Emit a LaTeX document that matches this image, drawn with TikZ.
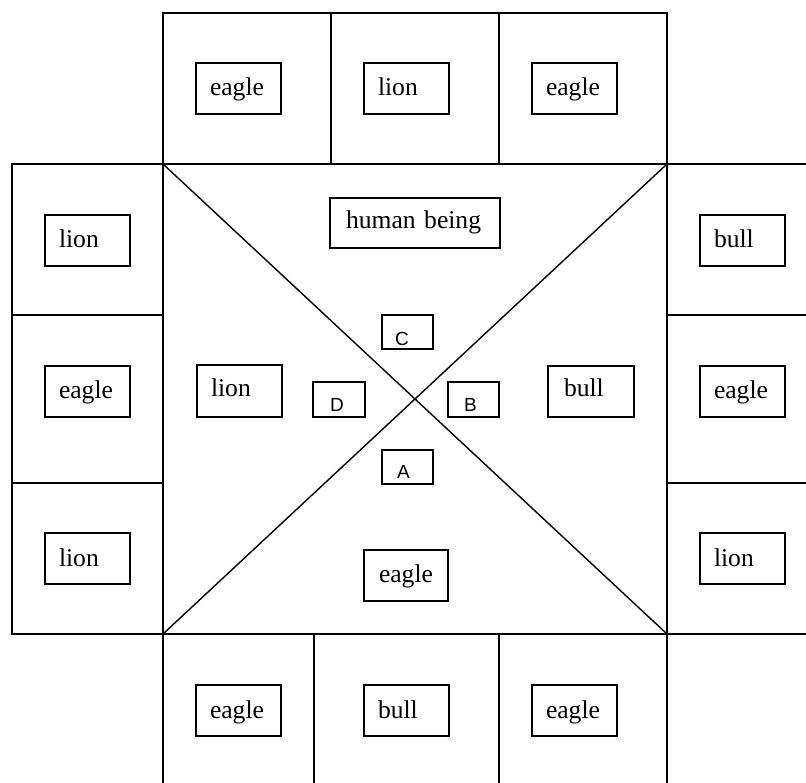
\documentclass[tikz,border=0pt]{standalone}
\usepackage{fontspec}
\setmainfont{Liberation Serif}
\newfontfamily\lettersf{Liberation Sans}
\begin{document}
\begin{tikzpicture}[x=1pt,y=-1pt,line width=1.4pt,
  lbl/.style={draw,line width=1.4pt,anchor=north west,inner xsep=14pt,inner ysep=0pt,outer sep=0pt,
    text height=33pt,text depth=18pt,text width=57pt,align=left,font=\fontsize{25.6}{30}\selectfont},
  ltr/.style={draw,line width=1.4pt,anchor=north west,inner xsep=14pt,inner ysep=0pt,outer sep=0pt,
    text height=31pt,text depth=3pt,text width=23pt,align=left,font=\lettersf\fontsize{19}{22}\selectfont}]
\useasboundingbox (0,0) rectangle (806,783);
% corners of the central square
\coordinate (tl) at (163,164);
\coordinate (tr) at (667,164);
\coordinate (bl) at (163,634);
\coordinate (br) at (667,634);
% top row
\draw (163,13) rectangle (tr);
\draw (331,13) -- (331,164);
\draw (499,13) -- (499,164);
% left column
\draw (12,164) rectangle (bl);
\draw (12,315) -- (163,315);
\draw (12,483) -- (163,483);
% right column
\draw (tr) -- (806,164);
\draw (667,315) -- (806,315);
\draw (667,483) -- (806,483);
\draw (br) -- (806,634);
% bottom row
\draw (bl) -- (163,783);
\draw (314,634) -- (314,783);
\draw (499,634) -- (499,783);
\draw (br) -- (667,783);
% central square and diagonals
\draw (tl) rectangle (br);
\draw (tl) -- (br);
\draw (tr) -- (bl);
% top row labels
\node[lbl] (t1) at (196,63) {eagle};
\node[lbl] (t2) at (364,63) {lion};
\node[lbl] (t3) at (532,63) {eagle};
% left column labels
\node[lbl] (l1) at (45,215) {lion};
\node[lbl] (l2) at (45,366) {eagle};
\node[lbl] (l3) at (45,533) {lion};
% right column labels
\node[lbl] (r1) at (700,215) {bull};
\node[lbl] (r2) at (700,366) {eagle};
\node[lbl] (r3) at (700,533) {lion};
% bottom row labels
\node[lbl] (b1) at (196,685) {eagle};
\node[lbl] (b2) at (364,685) {bull};
\node[lbl] (b3) at (532,685) {eagle};
% central labels
\node[lbl,inner xsep=16pt,text width=138pt,text height=31pt,text depth=19pt] (hb) at (330,198) {human being};
\node[lbl,text height=32pt,text depth=20pt] (cl) at (197,365) {lion};
\node[lbl,inner xsep=16pt,text width=54pt,text height=31pt,text depth=20pt] (cb) at (548,366) {bull};
\node[lbl,inner xsep=15pt,text width=54pt,text height=32pt,text depth=19pt] (ce) at (364,550) {eagle};
% letter boxes
\node[ltr,inner xsep=13pt,text width=25pt] (C) at (382,315) {C};
\node[ltr,inner xsep=17pt,text width=18pt,text height=30pt,text depth=5pt] (D) at (313,382) {D};
\node[ltr,inner xsep=16pt,text width=19pt,text height=30pt,text depth=5pt] (B) at (448,382) {B};
\node[ltr,inner xsep=15pt,text width=21pt,text height=28pt,text depth=6pt] (A) at (382,450) {A};
\end{tikzpicture}
\end{document}
